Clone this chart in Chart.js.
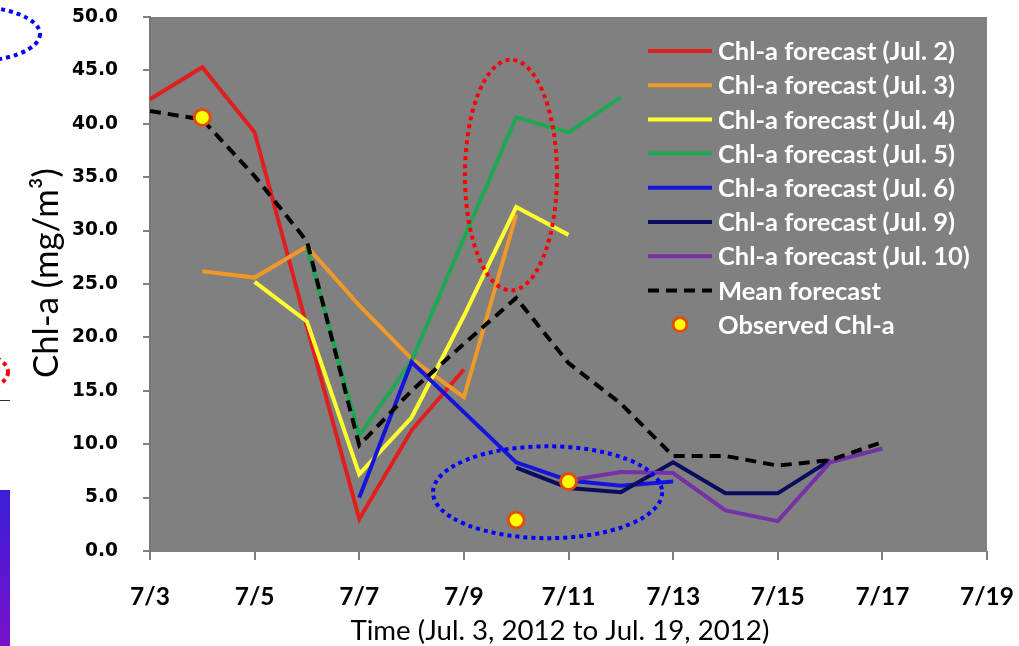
<!DOCTYPE html>
<html><head><meta charset="utf-8">
<script src="https://cdn.jsdelivr.net/npm/chart.js@4.4.0/dist/chart.umd.min.js"></script>
<style>html,body{margin:0;padding:0;background:#fff;}#wrap{width:1019px;height:646px;position:relative;}</style>
</head><body><div id="wrap"><canvas id="c" width="1019" height="646"></canvas></div>
<script>
// ---- data ----
const dates = ['7/3','7/4','7/5','7/6','7/7','7/8','7/9','7/10','7/11','7/12','7/13','7/14','7/15','7/16','7/17','7/18','7/19'];
const fcJul2  = [42.3,45.3,39.2,21.0,3.0,11.3,17.0,null,null,null,null,null,null,null,null,null,null];
const fcJul3  = [null,26.2,25.6,28.5,23.0,18.0,14.4,31.5,null,null,null,null,null,null,null,null,null];
const fcJul4  = [null,null,25.2,21.5,7.2,12.5,22.0,32.2,29.6,null,null,null,null,null,null,null,null];
const fcJul5  = [null,null,null,28.5,10.8,17.8,29.3,40.6,39.2,42.5,null,null,null,null,null,null,null];
const fcJul6  = [null,null,null,null,5.0,17.7,13.0,8.3,6.6,6.1,6.5,null,null,null,null,null,null];
const fcJul9  = [null,null,null,null,null,null,null,7.8,5.9,5.5,8.3,5.4,5.4,8.5,null,null,null];
const fcJul10 = [null,null,null,null,null,null,null,null,6.6,7.4,7.3,3.8,2.8,8.3,9.6,null,null];
const meanFc  = [41.2,40.4,35.1,29.0,9.9,15.0,19.4,23.7,17.6,13.8,8.9,8.9,8.0,8.5,10.2,null,null];
const observed= [null,40.6,null,null,null,null,null,2.9,6.5,null,null,null,null,null,null,null,null];
const seriesNames = ['Chl-a forecast (Jul. 2)','Chl-a forecast (Jul. 3)','Chl-a forecast (Jul. 4)','Chl-a forecast (Jul. 5)','Chl-a forecast (Jul. 6)','Chl-a forecast (Jul. 9)','Chl-a forecast (Jul. 10)','Mean forecast','Observed Chl-a'];
const seriesColors = ['#E01E1E','#F0982A','#FFFF30','#1FA854','#1414DC','#0C0C5E','#7432A6','#000000','#FFFF00'];
const yTitle = 'Chl-a (mg/m\u00B3)';
const xTitle = 'Time (Jul. 3, 2012 to Jul. 19, 2012)';

// ---- font fitting ----
function fitSize(text, weight, family, target){
  const c=document.createElement('canvas').getContext('2d');
  c.font = weight+' 100px '+family;
  return 100*target/c.measureText(text).width;
}
const LATO = 'Lato, "Open Sans", sans-serif';
const DJV = '"DejaVu Sans", Verdana, sans-serif';
const yTickSize = fitSize('50.0','bold',DJV,46);
const xTickSize = fitSize('7/19','bold',LATO,54);
const legSize = fitSize(seriesNames[0],'bold',LATO,237);
const xTitleSize = fitSize(xTitle,'normal',LATO,419);
const yTitleSize = fitSize(yTitle,'normal',LATO,210);

const lineSets = [fcJul2,fcJul3,fcJul4,fcJul5,fcJul6,fcJul9,fcJul10];
const datasets = lineSets.map((d,i)=>({
  label: seriesNames[i], data: d, borderColor: seriesColors[i], backgroundColor: seriesColors[i],
  borderWidth: 4, pointRadius: 0, pointHoverRadius: 0, tension: 0, fill:false, order: 8-i, spanGaps:false
}));
datasets.push({label: seriesNames[7], data: meanFc, borderColor:'#000', borderWidth:4, borderDash:[11,7], pointRadius:0, tension:0, fill:false, order:1});
datasets.push({label: seriesNames[8], data: observed, showLine:false, pointRadius:8, pointBorderWidth:3,
  pointBackgroundColor:'#FFFF00', pointBorderColor:'#DD4E14', borderColor:'#DD4E14', backgroundColor:'#FFFF00', order:0});

// annotation ellipses in data coords (category index, value)
const redEllipse = {x0:6.02, x1:7.78, y0:24.4, y1:46.0, color:'#FF0000'};
const blueEllipse = {x0:5.41, x1:9.79, y0:1.2, y1:9.8, color:'#0000FF'};

function dottedEllipse(ctx, cx, cy, rx, ry, color){
  ctx.save();
  ctx.beginPath(); ctx.ellipse(cx,cy,rx,ry,0,0,2*Math.PI);
  ctx.setLineDash([4,4]); ctx.lineWidth=4; ctx.lineCap='butt'; ctx.strokeStyle=color; ctx.stroke();
  ctx.restore();
}

const decoPlugin = {
  id:'deco',
  beforeDraw(chart){
    const ctx=chart.ctx; ctx.save();
    ctx.fillStyle='#fff'; ctx.fillRect(0,0,chart.width,chart.height);
    const a=chart.chartArea; ctx.fillStyle='#808080'; ctx.fillRect(a.left,a.top,a.right-a.left,a.bottom-a.top);
    // cropped fragments at the left edge of the source picture
    dottedEllipse(ctx,-32,34,72,28,'#0000FF');
    dottedEllipse(ctx,-40,372,48,22,'#FF0000');
    ctx.strokeStyle='#333'; ctx.lineWidth=1; ctx.beginPath(); ctx.moveTo(0,400.5); ctx.lineTo(10,400.5); ctx.stroke();
    const g=ctx.createLinearGradient(0,490,0,646); g.addColorStop(0,'#3a1fd8'); g.addColorStop(1,'#7a10c8');
    ctx.fillStyle=g; ctx.fillRect(0,490,10,156);
    ctx.restore();
  },
  afterDatasetsDraw(chart){
    const ctx=chart.ctx, xs=chart.scales.x, ys=chart.scales.y;
    [redEllipse,blueEllipse].forEach(e=>{
      const l=xs.getPixelForValue(e.x0), r=xs.getPixelForValue(e.x1);
      const t=ys.getPixelForValue(e.y1), b=ys.getPixelForValue(e.y0);
      dottedEllipse(ctx,(l+r)/2,(t+b)/2,(r-l)/2,(b-t)/2,e.color);
    });
    // legend inside plot
    ctx.save();
    chart.data.datasets.forEach((ds,i)=>{
      const y=51+i*34.2;
      if(ds.showLine===false){
        ctx.beginPath(); ctx.arc(680,y,7,0,2*Math.PI);
        ctx.fillStyle=ds.pointBackgroundColor; ctx.fill();
        ctx.lineWidth=3; ctx.strokeStyle=ds.pointBorderColor; ctx.stroke();
      } else {
        ctx.beginPath(); ctx.setLineDash(ds.borderDash||[]); ctx.lineWidth=4; ctx.lineCap='butt';
        ctx.strokeStyle=ds.borderColor; ctx.moveTo(648,y); ctx.lineTo(712,y); ctx.stroke(); ctx.setLineDash([]);
      }
      ctx.fillStyle='#FFFFFF'; ctx.font='bold '+legSize.toFixed(2)+'px '+LATO;
      ctx.textAlign='left'; ctx.textBaseline='middle';
      ctx.fillText(ds.label,718,y+1);
    });
    ctx.restore();
  }
};

function zeroPad(s){ s.paddingTop=0; s.paddingBottom=0; s.paddingLeft=0; s.paddingRight=0; }
const xTickLen=9, yTickLen=7;
new Chart(document.getElementById('c'),{
  type:'line',
  data:{labels:dates, datasets},
  options:{
    responsive:false, animation:false, devicePixelRatio:1,
    layout:{padding:{top:17,right:32,left:0,bottom:0}},
    plugins:{legend:{display:false}, tooltip:{enabled:false}},
    scales:{
      x:{type:'category', offset:false,
        grid:{drawOnChartArea:false, drawTicks:true, tickLength:xTickLen,
          color:(c)=> (c.index%2===0 ? '#808080' : 'rgba(0,0,0,0)'), lineWidth:2},
        border:{display:true,color:'#808080',width:1},
        ticks:{autoSkip:false, maxRotation:0, color:'#000',
          font:{family:LATO, weight:'bold', size:xTickSize},
          padding: 597-551-xTickLen-0.6*xTickSize,
          callback:(v,i)=> (i%2===0 ? dates[i] : '')},
        title:{display:true, text:xTitle+'\u2002\u2009', color:'#000',
          font:{family:LATO, size:xTitleSize, lineHeight:1},
          padding:{top:0,bottom:15-0.5*xTitleSize}},
        afterFit:(s)=>{s.height=646-551; zeroPad(s);}
      },
      y:{min:0,max:50,
        grid:{drawOnChartArea:false, drawTicks:true, tickLength:yTickLen, color:'#808080', lineWidth:2},
        border:{display:true,color:'#777777',width:2},
        ticks:{stepSize:5, color:'#000', padding:25,
          font:{family:DJV, weight:'bold', size:yTickSize},
          callback:(v)=>Number(v).toFixed(1)},
        title:{display:true, text:'\u2002\u2009'+yTitle, color:'#000',
          font:{family:LATO, size:yTitleSize, lineHeight:1},
          padding:{top:47-0.5*yTitleSize,bottom:0}},
        afterFit:(s)=>{s.width=150; zeroPad(s);}
      }
    }
  },
  plugins:[decoPlugin]
});
</script></body></html>
